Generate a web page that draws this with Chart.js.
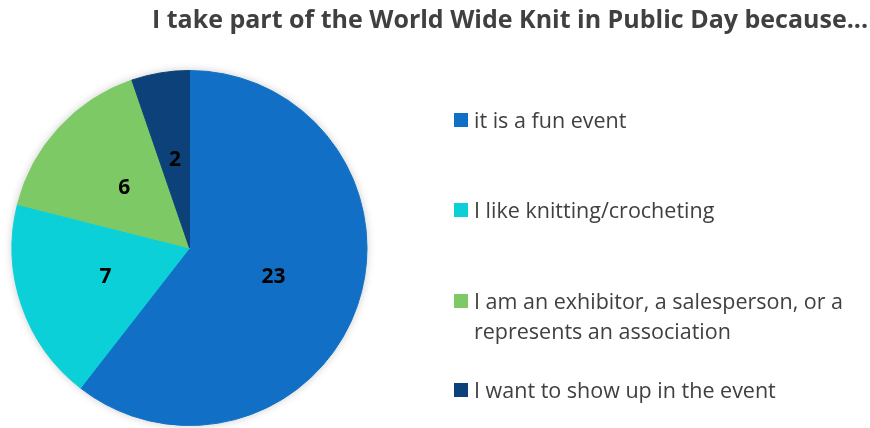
<!DOCTYPE html>
<html>
<head>
<meta charset="utf-8">
<script src="https://cdn.jsdelivr.net/npm/chart.js@4"></script>
<style>
  html, body { margin: 0; padding: 0; background: #fff; }
  #wrap { position: relative; width: 870px; height: 428px; overflow: hidden; }
  #chart { position: absolute; left: 0; top: 0; }
  #title {
    position: absolute; left: 150px; width: 720px; top: 1px; line-height: 34px;
    text-align: center; font: bold 25px "Open Sans", sans-serif; color: #404040;
    white-space: nowrap;
  }
  .item { position: absolute; left: 454px; font: 21.5px "Open Sans", sans-serif; color: #404040; line-height: 30px; }
  .item .box { position: absolute; left: 0; width: 14px; height: 14px; }
  .item .txt { position: absolute; left: 20px; white-space: nowrap; }
</style>
</head>
<body>
<div id="wrap">
  <canvas id="chart" width="870" height="428"></canvas>
  <div id="title">I take part of the World Wide Knit in Public Day because...</div>
  <div id="legend"></div>
</div>
<script>
// Données
const labels = [
  'it is a fun event',
  'I like knitting/crocheting',
  'I am an exhibitor, a salesperson, or a|represents an association',
  'I want to show up in the event'
];
const counts = [23, 7, 6, 2];
const colors = ['#1170C6', '#0CD0D8', '#7DC965', '#0C4279'];
const legendY = [120, 210, 301, 390];

// Légende à droite
const legend = document.getElementById('legend');
labels.forEach((lab, i) => {
  const lines = lab.split('|');
  const item = document.createElement('div');
  item.className = 'item';
  item.style.top = (legendY[i] - 15) + 'px';
  item.innerHTML = `<div class="box" style="top:8px;background:${colors[i]}"></div>` +
    `<div class="txt">${lines.join('<br>')}</div>`;
  legend.appendChild(item);
});

// Ombre douce sous le camembert
const shadowPlugin = {
  id: 'pieShadow',
  beforeDatasetsDraw(chart) {
    const arc = chart.getDatasetMeta(0).data[0];
    if (!arc) return;
    const ctx = chart.ctx;
    ctx.save();
    ctx.shadowColor = 'rgba(0,0,0,0.22)';
    ctx.shadowBlur = 9;
    ctx.fillStyle = '#fff';
    ctx.beginPath();
    ctx.arc(arc.x, arc.y, arc.outerRadius, 0, Math.PI * 2);
    ctx.fill();
    ctx.restore();
  }
};

// Valeurs dans les parts
const valuePlugin = {
  id: 'values',
  afterDatasetsDraw(chart) {
    const ctx = chart.ctx;
    ctx.save();
    ctx.font = 'bold 21px "Open Sans", sans-serif';
    ctx.fillStyle = '#000';
    ctx.textAlign = 'center';
    ctx.textBaseline = 'middle';
    chart.getDatasetMeta(0).data.forEach((arc, i) => {
      const p = arc.tooltipPosition();
      ctx.fillText(String(counts[i]), p.x, p.y);
    });
    ctx.restore();
  }
};

new Chart(document.getElementById('chart').getContext('2d'), {
  type: 'pie',
  data: {
    labels: labels.map(l => l.replace('|', ' ')),
    datasets: [{
      data: counts,
      backgroundColor: colors,
      borderColor: colors,
      borderWidth: 1
    }]
  },
  options: {
    responsive: false,
    animation: false,
    layout: { padding: { left: 11, right: 502, top: 70, bottom: 2 } },
    plugins: {
      legend: { display: false },
      tooltip: { enabled: false }
    }
  },
  plugins: [shadowPlugin, valuePlugin]
});
</script>
</body>
</html>
